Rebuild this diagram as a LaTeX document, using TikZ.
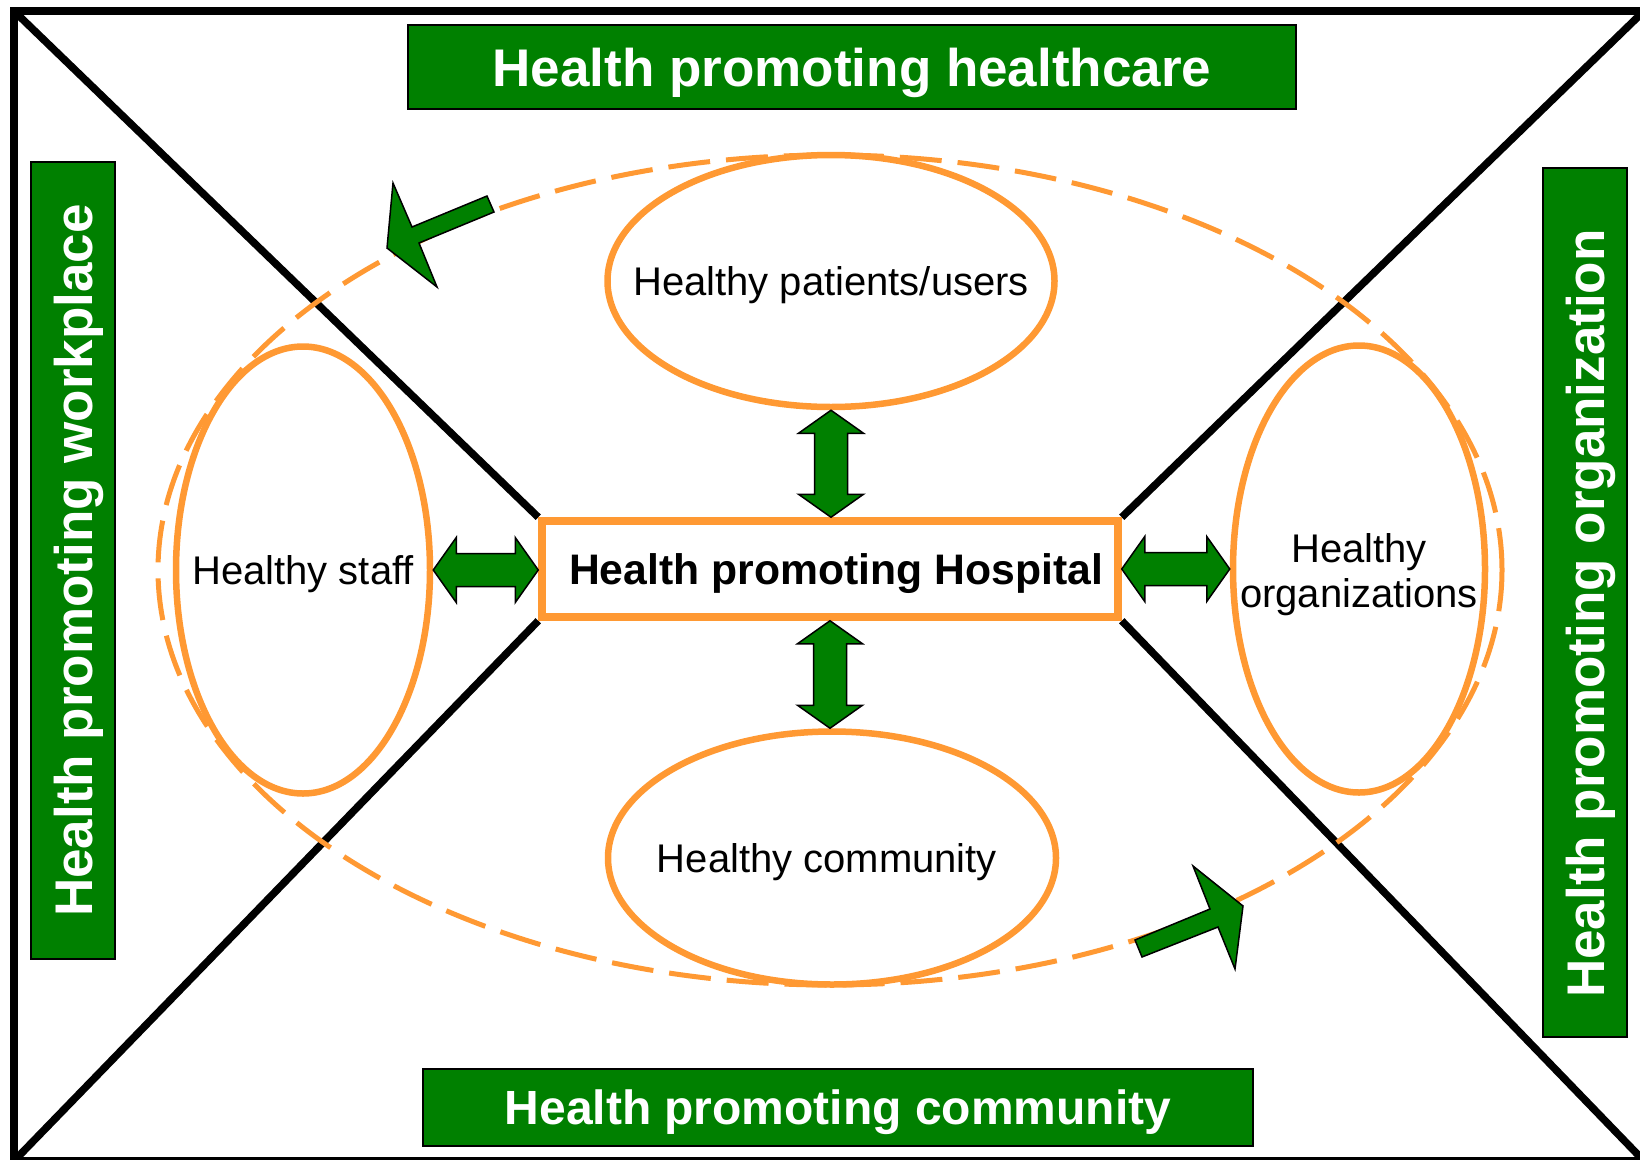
\documentclass[tikz,border=0pt]{standalone}
\usepackage{fontspec}
\setmainfont{Liberation Sans}
\usetikzlibrary{shapes.geometric,calc,backgrounds}
\definecolor{hpgreen}{RGB}{0,128,0}
\definecolor{hporange}{RGB}{255,153,51}
% horizontal block double arrow between two named points (left, right)
\newcommand\hdblarrow[2]{%
  \draw[garrow] let \p1=(#1), \p2=(#2) in
    (\x1,\y1) -- (\x1+23pt,\y1+32.5pt) -- (\x1+23pt,\y1+16.5pt) -- (\x2-23pt,\y1+16.5pt)
    -- (\x2-23pt,\y1+32.5pt) -- (\x2,\y1) -- (\x2-23pt,\y1-32.5pt) -- (\x2-23pt,\y1-16.5pt)
    -- (\x1+23pt,\y1-16.5pt) -- (\x1+23pt,\y1-32.5pt) -- cycle;}
% vertical block double arrow between two named points (upper, lower)
\newcommand\vdblarrow[2]{%
  \draw[garrow] let \p1=(#1), \p2=(#2) in
    (\x1,\y1) -- (\x1+32.5pt,\y1-23pt) -- (\x1+16.5pt,\y1-23pt) -- (\x1+16.5pt,\y2+23pt)
    -- (\x1+32.5pt,\y2+23pt) -- (\x1,\y2) -- (\x1-32.5pt,\y2+23pt) -- (\x1-16.5pt,\y2+23pt)
    -- (\x1-16.5pt,\y1-23pt) -- (\x1-32.5pt,\y1-23pt) -- cycle;}
\begin{document}
\begin{tikzpicture}[x=1pt,y=-1pt,
  gbox/.style={rectangle, draw=black, line width=2pt, fill=hpgreen, text=white, inner sep=0pt,
    text depth=0pt, font=\bfseries\fontsize{53}{60}\selectfont},
  oell/.style={ellipse, draw=hporange, line width=6.5pt, fill=white, inner sep=0pt,
    font=\fontsize{40}{45}\selectfont},
  oneline/.style={text depth=0pt},
  hbox/.style={rectangle, draw=hporange, line width=7.5pt, fill=white, inner sep=0pt,
    text depth=0pt, font=\bfseries\fontsize{42.7}{48}\selectfont},
  garrow/.style={draw=black, line width=1.5pt, fill=hpgreen, line join=miter},
  frameline/.style={draw=black, line width=8.5pt},
  diag/.style={draw=black, line width=7.5pt},
  cyc/.style={draw=hporange, line width=5pt, dash pattern=on 42pt off 16pt}
]
\useasboundingbox (0,0) rectangle (1640,1159);

% frame corners
\coordinate (ftl) at (14,11);
\coordinate (ftr) at (1644,11);
\coordinate (fbl) at (14,1161);
\coordinate (fbr) at (1644,1161);

% central hospital box
\node[hbox, minimum width=576pt, minimum height=96pt] (hph) at (830,569) {\hspace*{12pt}Health promoting Hospital};

% the four ellipses
\node[oell, oneline, minimum width=447pt, minimum height=252pt] (pat) at (831,281) {\makebox[0pt]{Healthy patients/users}};
\node[oell, oneline, minimum width=448pt, minimum height=253pt] (com) at (832,858) {\makebox[0pt]{\hspace*{-10pt}Healthy community}};
\node[oell, oneline, minimum width=254pt, minimum height=447pt] (staff) at (303,570) {\makebox[0pt]{Healthy staff}};
\node[oell, minimum width=252pt, minimum height=447pt, text height=89.5pt, text depth=13.5pt] (org) at (1359,569)
  {\makebox[0pt]{\begin{tabular}[b]{@{}c@{}}Healthy\\organizations\end{tabular}}};

% green title boxes
\node[gbox, minimum width=888pt, minimum height=84pt] (hpc) at (852,67) {Health promoting healthcare};
\node[gbox, minimum width=830pt, minimum height=77pt, font=\bfseries\fontsize{48}{54}\selectfont] (hpcom) at (838,1107.5) {Health promoting community};
\node[gbox, rotate=90, minimum width=797pt, minimum height=84pt] (hpw) at (73,560.5) {Health promoting workplace};
\node[gbox, rotate=90, minimum width=869pt, minimum height=84pt] (hpo) at (1585,602.5) {Health promoting organization\hspace*{22pt}};

% block double arrows between the hospital and the ellipses
\hdblarrow{staff.east}{hph.west}
\hdblarrow{hph.east}{org.west}
\vdblarrow{pat.south}{hph.north}
\vdblarrow{hph.south}{com.north}

% cycle arrows
\draw[garrow] (487,196) -- (412,227) -- (393,183) -- (387,248) -- (437,287) -- (419,243) -- (494,212) -- cycle;
\draw[garrow] (1135,940) -- (1210,909) -- (1193,866) -- (1243,906) -- (1235,969) -- (1218,927) -- (1142,957) -- cycle;

\begin{pgfonlayer}{background}
  \fill[white] (0,0) rectangle (1640,1159);
  \draw[frameline] (ftl) rectangle (fbr);
  \draw[diag] (ftl) -- (hph.north west);
  \draw[diag] (fbl) -- (hph.south west);
  \draw[diag] (ftr) -- (hph.north east);
  \draw[diag] (fbr) -- (hph.south east);
  \draw[cyc] (830,570) ellipse [x radius=672pt, y radius=415pt];
\end{pgfonlayer}
\end{tikzpicture}
\end{document}
